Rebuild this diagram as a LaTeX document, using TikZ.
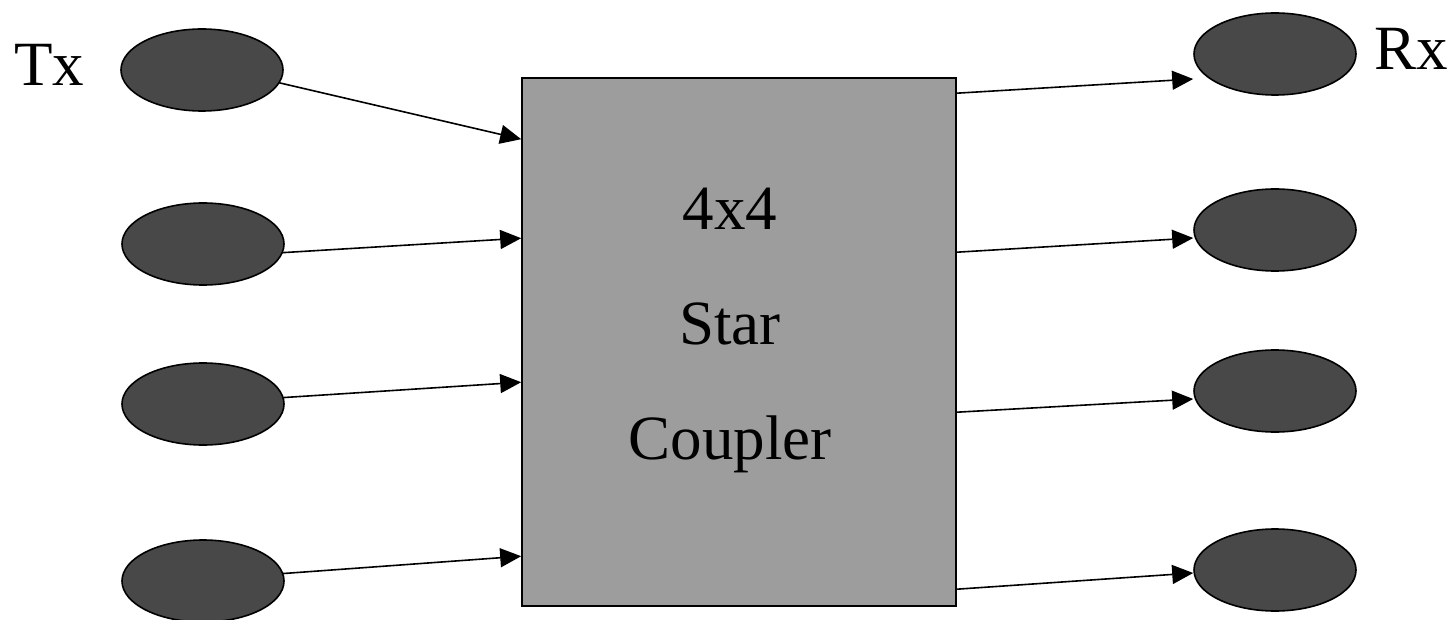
\documentclass[tikz,border=0pt]{standalone}
\usepackage{fontspec}
\setmainfont{Liberation Serif}
\usetikzlibrary{shapes.geometric, arrows.meta, backgrounds}

\definecolor{couplergray}{RGB}{157,157,157}
\definecolor{portgray}{RGB}{72,72,72}

\begin{document}
\begin{tikzpicture}[
        x=1pt, y=-1pt,
        % Estilo del acoplador
        couplerbox/.style={
                rectangle,
                draw=black,
                line width=1.6pt,
                fill=couplergray,
                minimum width=434pt,
                minimum height=528pt,
                inner sep=0pt
            },
        % Estilo de los puertos
        port/.style={
                ellipse,
                draw=black,
                line width=1.6pt,
                fill=portgray,
                minimum width=162pt,
                minimum height=82pt,
                inner sep=0pt
            },
        % Etiquetas
        tag/.style={
                inner sep=0pt,
                font=\fontsize{63}{115}\selectfont
            },
        % Flechas
        arrow/.style={
                -{Triangle[length=21pt, width=19pt]},
                line width=1.6pt,
                color=black
            }
    ]

    % Fondo
    \useasboundingbox (0,0) rectangle (1453,620);

    % Acoplador en estrella
    \node[couplerbox] (coupler) at (739,342) {};
    \node[tag, align=center] (couplertext) at (730,330) {4x4\\Star\\Coupler};

    % Transmisores
    \node[port] (tx1) at (202,70) {};
    \node[port] (tx2) at (203,244) {};
    \node[port] (tx3) at (203,404) {};
    \node[port] (tx4) at (203,581) {};
    \node[tag, anchor=base west] (txlabel) at (14,86) {Tx};

    % Receptores
    \node[port] (rx1) at (1275,54) {};
    \node[port] (rx2) at (1275,230) {};
    \node[port] (rx3) at (1275,391) {};
    \node[port] (rx4) at (1275,570) {};
    \node[tag, anchor=base west] (rxlabel) at (1374,70) {Rx};

    % Entradas y salidas del acoplador
    \coordinate (in1) at ([yshift=-62pt]coupler.north west);
    \coordinate (in2) at ([yshift=-161pt]coupler.north west);
    \coordinate (in3) at ([yshift=-305pt]coupler.north west);
    \coordinate (in4) at ([yshift=-479pt]coupler.north west);
    \coordinate (out1) at ([yshift=-16pt]coupler.north east);
    \coordinate (out2) at ([yshift=-175pt]coupler.north east);
    \coordinate (out3) at ([yshift=-335pt]coupler.north east);
    \coordinate (out4) at ([yshift=-512pt]coupler.north east);

    % Flechas Tx -> acoplador
    \begin{scope}[on background layer]
        \draw[arrow] ([xshift=-8pt, yshift=-12pt]tx1.east) -- (in1);
        \draw[arrow] ([xshift=-8pt, yshift=-9pt]tx2.east) -- (in2);
        \draw[arrow] ([xshift=-8pt, yshift=6pt]tx3.east) -- (in3);
        \draw[arrow] ([xshift=-8pt, yshift=7pt]tx4.east) -- (in4);
    \end{scope}

    % Flechas acoplador -> Rx
    \draw[arrow] (out1) -- ([yshift=-25pt]rx1.west);
    \draw[arrow] (out2) -- ([yshift=-8pt]rx2.west);
    \draw[arrow] (out3) -- ([yshift=-8pt]rx3.west);
    \draw[arrow] (out4) -- ([yshift=-3pt]rx4.west);

\end{tikzpicture}
\end{document}
